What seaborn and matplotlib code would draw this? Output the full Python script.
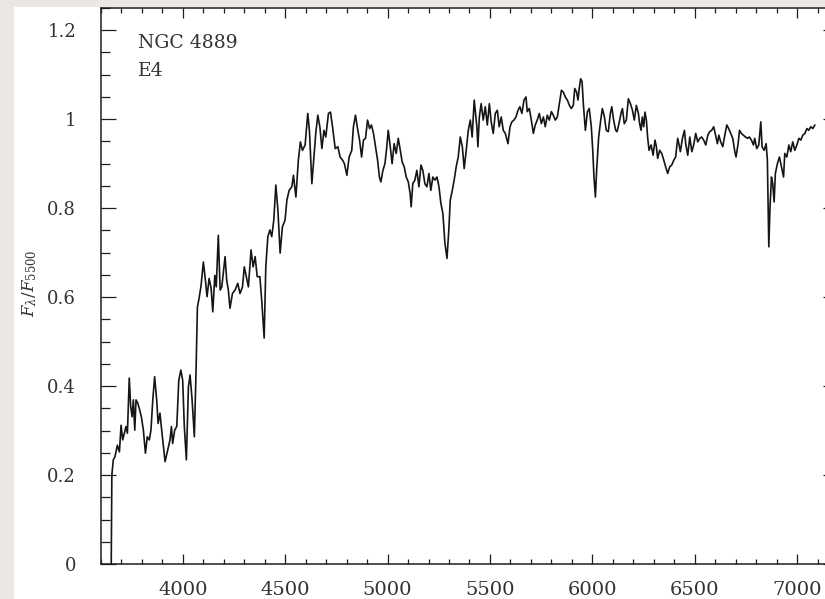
import matplotlib
matplotlib.use("Agg")
import matplotlib.pyplot as plt
from matplotlib.patches import Rectangle
from matplotlib.ticker import MultipleLocator
import pandas as pd
import seaborn as sns

# Spectrum of NGC 4889 (wavelength in Angstrom, F_lambda / F_5500)
wavelength = [
    3650, 3653, 3660, 3668, 3680, 3690, 3698, 3706, 3714, 3722, 3729, 3738, 3745,
    3752, 3758, 3765, 3771, 3779, 3787, 3797, 3807, 3817, 3826, 3836, 3844, 3853,
    3862, 3872, 3879, 3888, 3898, 3913, 3926, 3937, 3944, 3950, 3960, 3970, 3980,
    3990, 3999, 4007, 4017, 4027, 4035, 4045, 4056, 4064, 4071, 4079, 4089, 4100,
    4110, 4118, 4128, 4138, 4146, 4156, 4163, 4173, 4182, 4190, 4206, 4214, 4222,
    4230, 4242, 4255, 4268, 4279, 4291, 4300, 4310, 4320, 4333, 4343, 4353, 4363,
    4376, 4385, 4397, 4405, 4415, 4425, 4434, 4444, 4454, 4464, 4475, 4486, 4499,
    4508, 4519, 4532, 4540, 4552, 4564, 4574, 4584, 4597, 4610, 4618, 4630, 4640,
    4649, 4659, 4669, 4679, 4689, 4698, 4711, 4721, 4731, 4744, 4757, 4768, 4780,
    4789, 4801, 4812, 4825, 4833, 4843, 4853, 4863, 4873, 4882, 4892, 4902, 4912,
    4921, 4931, 4941, 4951, 4960, 4967, 4977, 4987, 4996, 5003, 5013, 5022, 5032,
    5042, 5052, 5062, 5071, 5081, 5091, 5101, 5110, 5115, 5123, 5133, 5143, 5153,
    5163, 5172, 5182, 5192, 5202, 5211, 5221, 5231, 5241, 5251, 5260, 5270, 5280,
    5290, 5299, 5306, 5316, 5325, 5335, 5345, 5355, 5365, 5374, 5384, 5394, 5404,
    5413, 5423, 5436, 5441, 5448, 5457, 5467, 5477, 5487, 5497, 5506, 5516, 5526,
    5536, 5545, 5555, 5565, 5575, 5588, 5598, 5607, 5617, 5627, 5637, 5646, 5656,
    5666, 5676, 5682, 5692, 5702, 5712, 5721, 5731, 5741, 5751, 5761, 5770, 5780,
    5790, 5800, 5809, 5819, 5829, 5839, 5849, 5858, 5868, 5878, 5888, 5897, 5907,
    5914, 5923, 5930, 5936, 5943, 5950, 5956, 5966, 5976, 5985, 5995, 6002, 6008,
    6015, 6021, 6031, 6041, 6049, 6059, 6068, 6078, 6088, 6095, 6104, 6114, 6121,
    6130, 6140, 6147, 6156, 6166, 6176, 6186, 6196, 6205, 6215, 6225, 6231, 6238,
    6244, 6251, 6257, 6264, 6270, 6277, 6287, 6297, 6306, 6313, 6319, 6329, 6339,
    6349, 6358, 6368, 6378, 6388, 6398, 6407, 6417, 6424, 6430, 6440, 6450, 6456,
    6466, 6476, 6486, 6495, 6505, 6515, 6525, 6534, 6544, 6554, 6564, 6573, 6583,
    6593, 6611, 6618, 6627, 6637, 6647, 6657, 6666, 6676, 6686, 6696, 6702, 6712,
    6719, 6728, 6738, 6748, 6758, 6767, 6777, 6787, 6793, 6803, 6813, 6823, 6829,
    6839, 6849, 6855, 6862, 6868, 6875, 6881, 6888, 6894, 6904, 6914, 6924, 6934,
    6940, 6950, 6960, 6969, 6979, 6989, 6999, 7009, 7018, 7028, 7038, 7048, 7057,
    7067, 7077, 7087,
]
flux = [
    0.000, 0.200, 0.234, 0.241, 0.267, 0.252, 0.312, 0.279, 0.294, 0.309, 0.294, 0.418, 0.354,
    0.331, 0.369, 0.301, 0.369, 0.362, 0.350, 0.331, 0.301, 0.249, 0.286, 0.279, 0.301, 0.369,
    0.421, 0.369, 0.316, 0.339, 0.294, 0.230, 0.256, 0.279, 0.309, 0.271, 0.301, 0.309, 0.413,
    0.436, 0.413, 0.309, 0.234, 0.398, 0.425, 0.369, 0.286, 0.429, 0.578, 0.597, 0.627, 0.679,
    0.638, 0.601, 0.642, 0.620, 0.567, 0.649, 0.623, 0.739, 0.616, 0.623, 0.691, 0.638, 0.616,
    0.575, 0.608, 0.616, 0.631, 0.608, 0.623, 0.668, 0.646, 0.623, 0.706, 0.668, 0.691, 0.646,
    0.646, 0.593, 0.508, 0.668, 0.736, 0.751, 0.736, 0.773, 0.852, 0.796, 0.699, 0.758, 0.773,
    0.818, 0.840, 0.848, 0.874, 0.825, 0.908, 0.949, 0.930, 0.942, 1.013, 0.975, 0.855, 0.915,
    0.968, 1.009, 0.983, 0.934, 0.975, 0.960, 1.013, 1.016, 0.983, 0.934, 0.938, 0.915, 0.908,
    0.900, 0.874, 0.915, 0.930, 0.983, 1.009, 0.979, 0.953, 0.915, 0.953, 0.957, 0.998, 0.979,
    0.987, 0.968, 0.938, 0.908, 0.870, 0.859, 0.885, 0.900, 0.938, 0.975, 0.938, 0.900, 0.945,
    0.923, 0.957, 0.930, 0.904, 0.893, 0.870, 0.859, 0.833, 0.803, 0.855, 0.863, 0.885, 0.848,
    0.897, 0.885, 0.855, 0.848, 0.878, 0.840, 0.870, 0.863, 0.870, 0.848, 0.811, 0.788, 0.721,
    0.687, 0.751, 0.818, 0.840, 0.863, 0.893, 0.915, 0.960, 0.938, 0.889, 0.930, 0.975, 0.998,
    0.960, 1.043, 0.983, 0.938, 1.005, 1.035, 0.998, 1.028, 0.987, 1.035, 0.994, 0.968, 1.013,
    1.020, 0.983, 1.005, 0.975, 0.968, 0.945, 0.983, 0.994, 0.998, 1.005, 1.020, 1.028, 1.013,
    1.043, 1.050, 1.017, 1.024, 0.998, 0.968, 0.987, 0.998, 1.013, 0.990, 1.005, 0.983, 1.009,
    0.998, 1.017, 1.009, 0.998, 1.005, 1.035, 1.065, 1.061, 1.050, 1.043, 1.031, 1.024, 1.031,
    1.069, 1.061, 1.043, 1.069, 1.091, 1.084, 1.035, 0.975, 1.017, 1.024, 0.983, 0.930, 0.870,
    0.825, 0.885, 0.960, 0.998, 1.024, 1.005, 0.975, 0.972, 1.013, 1.028, 0.998, 0.975, 0.972,
    0.990, 1.013, 1.024, 0.990, 0.998, 1.046, 1.035, 1.020, 0.998, 1.031, 1.013, 0.990, 0.975,
    1.005, 0.983, 1.016, 0.998, 0.960, 0.930, 0.942, 0.919, 0.953, 0.938, 0.912, 0.930, 0.923,
    0.908, 0.893, 0.878, 0.893, 0.897, 0.908, 0.915, 0.957, 0.942, 0.927, 0.957, 0.975, 0.945,
    0.919, 0.960, 0.927, 0.942, 0.968, 0.949, 0.957, 0.960, 0.953, 0.942, 0.964, 0.972, 0.975,
    0.983, 0.945, 0.964, 0.949, 0.938, 0.964, 0.987, 0.979, 0.968, 0.957, 0.927, 0.915, 0.945,
    0.975, 0.968, 0.964, 0.960, 0.957, 0.960, 0.953, 0.942, 0.957, 0.934, 0.942, 0.994, 0.938,
    0.930, 0.945, 0.908, 0.713, 0.803, 0.870, 0.855, 0.814, 0.878, 0.900, 0.915, 0.893, 0.870,
    0.923, 0.915, 0.942, 0.927, 0.949, 0.930, 0.942, 0.957, 0.953, 0.964, 0.968, 0.979, 0.975,
    0.983, 0.979, 0.987,
]

x_ticks = [4000, 4500, 5000, 5500, 6000, 6500, 7000]
y_ticks = [0, 0.2, 0.4, 0.6, 0.8, 1.0, 1.2]
y_tick_labels = ["0", "0.2", "0.4", "0.6", "0.8", "1", "1.2"]

df = pd.DataFrame({"wavelength": wavelength, "flux": flux})

sns.set_style("white")
plt.rcParams["font.family"] = ["DejaVu Serif"]
plt.rcParams["mathtext.fontset"] = "dejavuserif"

W, H = 825, 599
fig = plt.figure(figsize=(W / 100, H / 100), dpi=100)
fig.patch.set_facecolor("#ebe8e3")
# white card the plot sits on, kept behind the axes
card = Rectangle((14 / W, 0), 1, (H - 7) / H, transform=fig.transFigure,
                 facecolor="white", edgecolor="none", zorder=-10)
fig.add_artist(card)

ax = fig.add_axes([101 / W, (H - 564) / H, 737 / W, 556 / H])
ax.set_zorder(5)
ax.set_facecolor("white")

sns.lineplot(data=df, x="wavelength", y="flux", ax=ax, sort=False, estimator=None,
             color="#151515", linewidth=1.2)

ax.set_xlim(3600, 7200)
ax.set_ylim(0, 1.25)
ax.set_xticks(x_ticks)
ax.set_yticks(y_ticks)
ax.set_yticklabels(y_tick_labels)
ax.xaxis.set_minor_locator(MultipleLocator(100))
ax.yaxis.set_minor_locator(MultipleLocator(0.05))
ax.set_xlabel("")
ax.set_ylabel("")

for s in ax.spines.values():
    s.set_linewidth(1.1)
    s.set_color("#1e1e1e")

ax.tick_params(axis="both", which="both", direction="in", top=True, right=True,
               bottom=True, left=True, colors="#1e1e1e", width=0.9)
ax.tick_params(axis="x", which="major", length=7, pad=12, labelsize=14, labelcolor="#333333")
ax.tick_params(axis="x", which="minor", length=3.8)
ax.tick_params(axis="y", which="major", length=11, pad=18, labelsize=13, labelcolor="#333333")
ax.tick_params(axis="y", which="minor", length=6.5)

ax.text(0.050, 0.928, "NGC 4889", transform=ax.transAxes, fontsize=13.5,
        color="#333333", va="baseline", ha="left")
ax.text(0.050, 0.877, "E4", transform=ax.transAxes, fontsize=13.5,
        color="#333333", va="baseline", ha="left")

fig.text(30 / W, (H - 283) / H, r"$F_\lambda/F_{5500}$", rotation=90,
         fontsize=12, color="#333333", ha="center", va="center")

plt.savefig("out.png", dpi=100, facecolor=fig.get_facecolor())
plt.close()
